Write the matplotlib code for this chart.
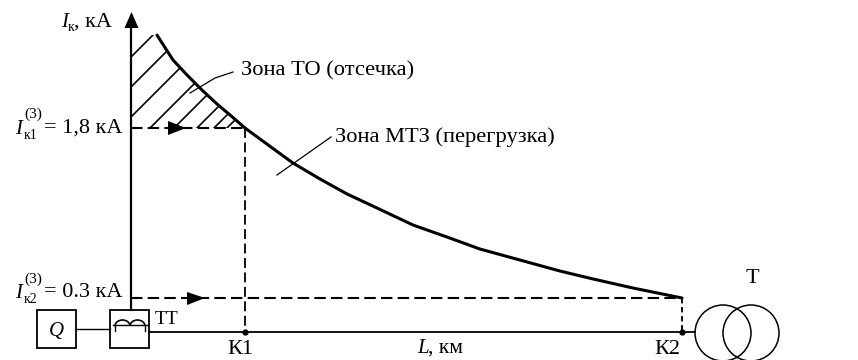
import matplotlib
matplotlib.use("Agg")
import matplotlib.pyplot as plt
from matplotlib.patches import Polygon, Circle, Rectangle, Arc

# fault current along the line
dist_km = [0.26, 0.42, 0.56, 0.71, 0.86, 0.99, 1.14, 1.42, 1.62, 1.89, 2.16, 2.46, 2.82,
           3.16, 3.49, 3.89, 4.29, 4.62, 5.02, 5.51]
current_ka = [2.62, 2.40, 2.268, 2.135, 2.012, 1.915, 1.80, 1.619, 1.491, 1.35, 1.218, 1.094, 0.944,
              0.838, 0.732, 0.635, 0.538, 0.468, 0.388, 0.30]
k1_km = 1.14
k1_ka = 1.8
k2_km = 5.51
k2_ka = 0.3

plt.rcParams['font.family'] = ['Liberation Serif', 'DejaVu Serif']
W, H = 858, 360
fig = plt.figure(figsize=(W / 100, H / 100), dpi=100)

# data axes: origin of the plot sits at pixel (131, 332)
ax = fig.add_axes([0, 0, 1, 1])
ax.set_xlim(-131 / 100, (W - 131) / 100)
ax.set_ylim(-(H - 332) / 113.33, 332 / 113.33)
ax.axis('off')

# overlay in pixels for the schematic and the text
sk = fig.add_axes([0, 0, 1, 1])
sk.set_xlim(0, W)
sk.set_ylim(H, 0)
sk.axis('off')
sk.patch.set_alpha(0)

ax.plot(dist_km, current_ka, color='k', lw=2.2, solid_capstyle='round', solid_joinstyle='round')

# hatched TO zone
zone = [(0, k1_ka), (0, current_ka[0])]
for l, i in zip(dist_km, current_ka):
    if l <= k1_km:
        zone.append((l, i))
clip = Polygon(zone, closed=True, transform=ax.transData, fc='none', ec='none')
ax.add_patch(clip)
for c in [188, 218, 248, 278, 302, 325, 342, 355]:
    ln, = sk.plot([c - 140, c - 20], [140, 20], color='k', lw=1.2)
    ln.set_clip_path(clip)

# dashed levels
dash = (0, (5.5, 2.5))
ax.plot([0, k1_km], [k1_ka, k1_ka], color='k', lw=1.5, ls=dash)
ax.plot([k1_km, k1_km], [k1_ka, 0], color='k', lw=1.3, ls=dash)
ax.plot([0, k2_km], [k2_ka, k2_ka], color='k', lw=1.5, ls=dash)
ax.plot([k2_km, k2_km], [k2_ka, 0], color='k', lw=1.3, ls=(0, (3, 2)))

# axes lines and line to the transformer
sk.plot([131, 131], [310, 25], color='k', lw=1.6)
sk.add_patch(Polygon([(131.5, 12), (124.5, 28), (138.5, 28)], fc='k', ec='none'))
sk.plot([149, 695], [332, 332], color='k', lw=1.3)
sk.plot([245, 682], [332, 332], 'o', color='k', ms=3.5)

# flow arrows
sk.add_patch(Polygon([(168, 121), (186, 128), (168, 135)], fc='k', ec='none'))
sk.add_patch(Polygon([(187, 292), (205, 298), (187, 305)], fc='k', ec='none'))

# leaders
sk.plot([233, 215, 190], [72, 78, 93], color='k', lw=0.9)
sk.plot([331, 277], [137, 175], color='k', lw=0.9)

# breaker and current transformer
sk.add_patch(Rectangle((37, 310), 39, 38, fc='w', ec='k', lw=1.3))
sk.add_patch(Rectangle((110, 310), 39, 38, fc='w', ec='k', lw=1.3))
sk.plot([76, 110], [329, 329], color='k', lw=1.0)
sk.plot([113, 147], [325, 325], color='k', lw=1.0)
sk.plot([115, 115], [325, 331], color='k', lw=1.0)
sk.plot([145, 145], [325, 331], color='k', lw=1.0)
sk.add_patch(Arc((122.5, 326), 15, 12, theta1=180, theta2=360, ec='k', lw=1.2))
sk.add_patch(Arc((137.5, 326), 15, 12, theta1=180, theta2=360, ec='k', lw=1.2))

# power transformer
sk.add_patch(Circle((723, 333), 28, fc='none', ec='k', lw=1.1))
sk.add_patch(Circle((751, 333), 28, fc='none', ec='k', lw=1.1))


def label(x, y, s, size=16.2, **kw):
    sk.text(x, y + 2.5, s, fontsize=size, ha=kw.pop('ha', 'left'), va='center', color='k', **kw)


label(61, 20, 'I', size=15, style='italic')
label(68, 25, 'к', size=10)
label(74, 20, ', кА', size=16)
label(241, 68, 'Зона ТО (отсечка)')
label(335, 135, 'Зона МТЗ (перегрузка)')
label(15, 127, 'I', size=15, style='italic')
label(24, 112, '(3)', size=11)
label(24, 133, 'к1', size=10)
label(44, 126, '= 1,8 кА', size=16)
label(15, 291, 'I', size=15, style='italic')
label(24, 277, '(3)', size=11)
label(24, 297, 'к2', size=10)
label(44, 290, '= 0.3 кА', size=16)
label(56.5, 329, 'Q', size=15, style='italic', ha='center')
label(155, 317, 'ТТ', size=14)
label(227, 347, 'К1', size=16)
label(417, 346, 'L', size=15, style='italic')
label(428, 346, ', км', size=15.5)
label(654, 347, 'К2', size=16)
label(746, 276, 'Т', size=16)

fig.savefig('out.png', dpi=100)
